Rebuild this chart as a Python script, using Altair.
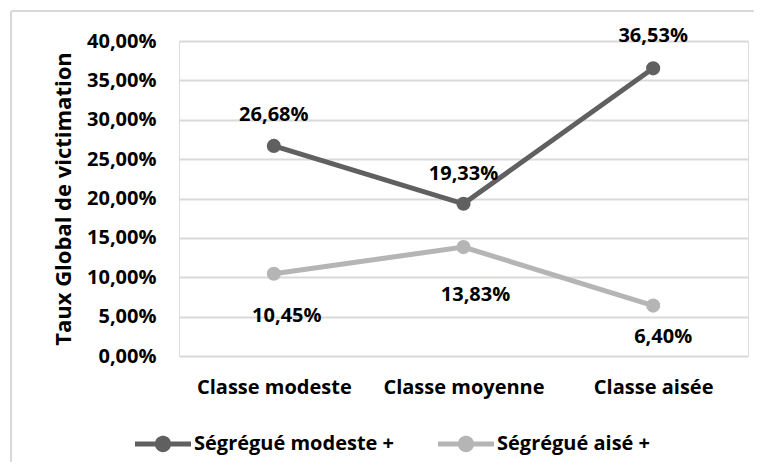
import altair as alt
import pandas as pd

categories = ["Classe modeste", "Classe moyenne", "Classe aisée"]
series_names = ["Ségrégué modeste +", "Ségrégué aisé +"]
modeste_values = [0.2668, 0.1933, 0.3653]
aise_values = [0.1045, 0.1383, 0.0640]
y_ticks = [0, 0.05, 0.10, 0.15, 0.20, 0.25, 0.30, 0.35, 0.40]

rows = []
for s, vals in zip(series_names, [modeste_values, aise_values]):
    for c, v in zip(categories, vals):
        rows.append({"cat": c, "series": s, "value": v,
                     "label": f"{v*100:.2f}%".replace(".", ",")})
df = pd.DataFrame(rows)

FONT = "Open Sans"
colors = ["#606060", "#b5b5b5"]
W, H = 569, 315

xenc = alt.X("cat:N", sort=categories, scale=alt.Scale(paddingInner=0, paddingOuter=0.5),
             axis=alt.Axis(title=None, labelAngle=0, domain=False, ticks=False,
                           labelPadding=21, labelFontSize=20, labelFont=FONT,
                           labelFontWeight="bold", labelColor="#000000", grid=False))
yenc = alt.Y("value:Q", scale=alt.Scale(domain=[0, 0.4], nice=False),
             axis=alt.Axis(title="Taux Global de victimation", values=y_ticks,
                           labelExpr="replace(format(datum.value, '.2%'), '.', ',')",
                           domain=False, ticks=False, labelPadding=23,
                           labelFontSize=20, labelFont=FONT, labelFontWeight="bold",
                           labelColor="#000000", gridColor="#d9d9d9", gridWidth=2,
                           titleFontSize=22, titleFont=FONT, titleFontWeight="bold",
                           titleColor="#000000", titlePadding=11))

base = alt.Chart(df)

line_layers = [
    base.transform_filter(alt.datum.series == s)
    .mark_line(strokeWidth=5, color=col)
    .encode(x=xenc, y=yenc)
    for s, col in zip(series_names, colors)
]

sym = ("M-1,-0.09L-0.276,-0.09A0.29,0.29,0,0,1,0.276,-0.09L1,-0.09L1,0.09"
       "L0.276,0.09A0.29,0.29,0,0,1,-0.276,0.09L-1,0.09Z")

points = base.mark_point(filled=True, size=200, opacity=1).encode(
    x=xenc, y=yenc,
    color=alt.Color("series:N", scale=alt.Scale(domain=series_names, range=colors),
                    legend=alt.Legend(title=None, orient="none", direction="horizontal",
                                      legendX=-44, legendY=375, symbolType=sym,
                                      symbolSize=3136, symbolStrokeWidth=0,
                                      symbolOpacity=1, labelFont=FONT, labelFontSize=20,
                                      labelFontWeight="bold", labelColor="#000000",
                                      labelOffset=3, columnPadding=43, labelLimit=0)),
)

offsets = {
    (series_names[0], categories[0]): (0, -31),
    (series_names[0], categories[1]): (0, -30),
    (series_names[0], categories[2]): (0, -32),
    (series_names[1], categories[0]): (13, 42),
    (series_names[1], categories[1]): (12, 48),
    (series_names[1], categories[2]): (10, 31),
}
texts = []
for (s, c), (dx, dy) in offsets.items():
    texts.append(
        base.transform_filter((alt.datum.series == s) & (alt.datum.cat == c))
        .mark_text(font=FONT, fontSize=20, fontWeight="bold", color="#000000",
                   dx=dx, dy=dy, baseline="middle")
        .encode(x=xenc, y=yenc, text="label:N")
    )

frame_top = base.mark_rule(color="#d9d9d9", strokeWidth=1.5).encode(
    x=alt.value(-168), x2=alt.value(W + 40), y=alt.value(-30))
frame_left = base.mark_rule(color="#d9d9d9", strokeWidth=1.5).encode(
    x=alt.value(-168), y=alt.value(-30), y2=alt.value(H + 200))

chart = alt.layer(frame_top, frame_left, *line_layers, points, *texts).properties(
    width=W, height=H,
    padding={"left": 171, "top": 33, "right": 6, "bottom": 106},
    autosize=alt.AutoSizeParams(type="none"),
).configure_view(stroke=None).configure(background="#ffffff")

chart.save("out.html", embed_options={"renderer": "svg", "actions": False})
